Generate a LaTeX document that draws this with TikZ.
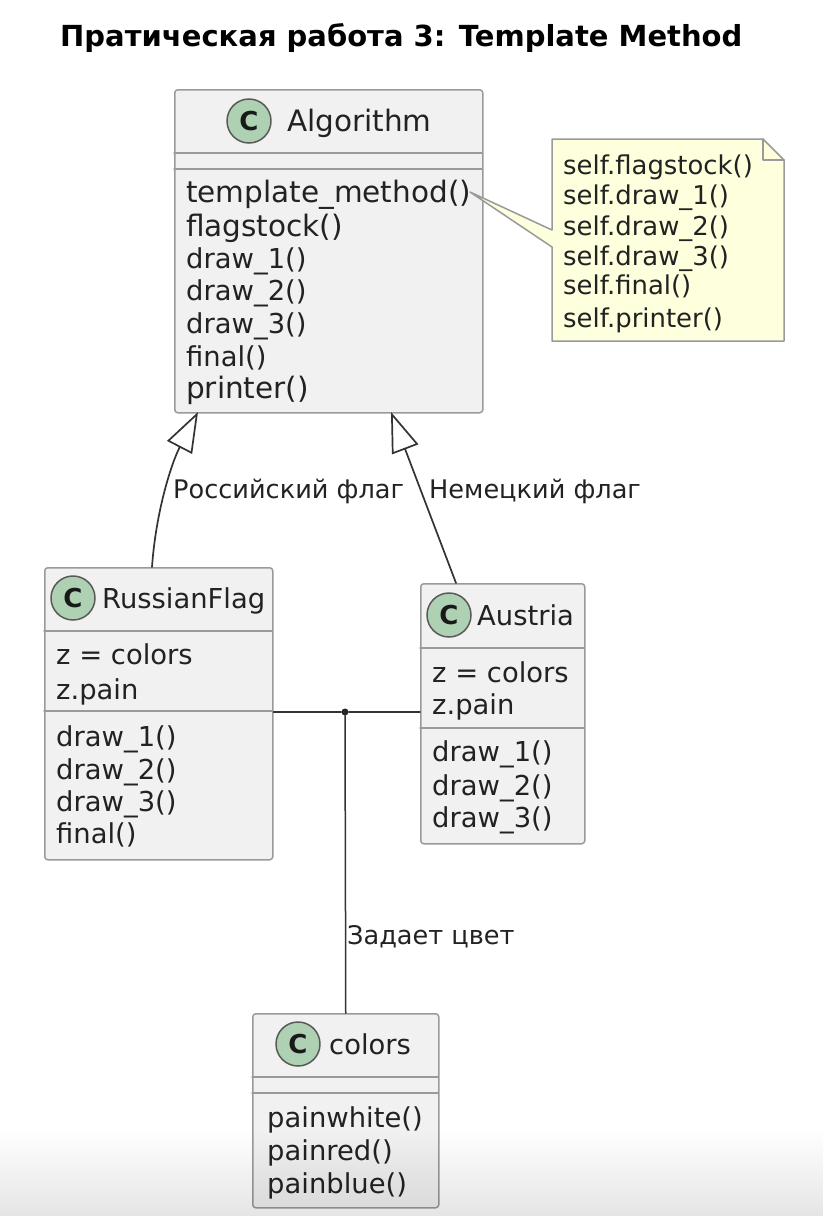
\documentclass[tikz,border=0pt]{standalone}
\usepackage{fontspec}
\setmainfont{DejaVu Sans}
\usetikzlibrary{arrows.meta, fadings}
\definecolor{boxfill}{HTML}{F1F1F1}
\definecolor{boxline}{HTML}{9A9A9A}
\definecolor{notefill}{HTML}{FEFFDD}
\definecolor{spotfill}{HTML}{ADD1B2}
\definecolor{inktext}{HTML}{222222}
\tikzstyle{every node}=[text=inktext, inner sep=0pt]
\tikzstyle{every path}=[line cap=round, line join=round]
\tikzset{
  classbox/.style={draw=boxline, fill=boxfill, line width=1.5pt, rounded corners=3pt, anchor=north west},
  classrule/.style={draw=boxline, line width=1.5pt},
  spot/.style={circle, draw=black!65, fill=spotfill, line width=1.5pt, minimum size=44pt, font=\fontsize{26}{26}\selectfont\bfseries, text=black!90},
  classname/.style={anchor=base west, yshift=-1pt, font=\fontsize{27.4}{27.4}\selectfont},
  member/.style={anchor=base west, yshift=-1pt, font=\fontsize{27.4}{27.4}\selectfont},
  bigmember/.style={anchor=base west, yshift=-1pt, font=\fontsize{29.5}{29.5}\selectfont},
  notetext/.style={anchor=base west, yshift=-1pt, font=\fontsize{25.9}{25.9}\selectfont},
  linklabel/.style={anchor=base west, yshift=-1pt, font=\fontsize{25.6}{25.6}\selectfont},
  link/.style={draw=black!80, line width=1.7pt},
  extends/.style={link, {Triangle[open, length=40pt, width=28pt, fill=white]}-},
}
\begin{document}
\begin{tikzpicture}[x=1pt, y=-1pt]
  \useasboundingbox (0,0) rectangle (824,1216);

  % Title
  \node[anchor=base west, font=\fontsize{29}{29}\selectfont\bfseries, text=black] (title) at (60,46) {Пратическая работа 3: Template Method};

  % Algorithm
  \node[classbox, minimum width=308pt, minimum height=323pt] (algorithm) at (174,89) {};
  \draw[classrule] (174,153) -- (482,153);
  \draw[classrule] (174,169) -- (482,169);
  \node[spot] (algorithmspot) at (249,121) {C};
  \node[bigmember] (algorithmname) at (287,130) {Algorithm};
  \node[bigmember] (m1) at (186,201) {template\_method()};
  \node[bigmember] (m2) at (186,235) {flagstock()};
  \node[member] (m3) at (186,267) {draw\_1()};
  \node[member] (m4) at (186,299) {draw\_2()};
  \node[member] (m5) at (186,332) {draw\_3()};
  \node[member] (m6) at (186,365) {final()};
  \node[bigmember] (m7) at (186,397) {printer()};

  % Note
  \draw[draw=boxline, fill=notefill, line width=1.5pt] (552,139) -- (763,139) -- (784,160) -- (784,341) -- (552,341) -- (552,247) -- (470,192) -- (552,230) -- cycle;
  \draw[draw=boxline, line width=1.5pt] (763,139) -- (763,160) -- (784,160);
  \node[notetext] (n1) at (563,173) {self.flagstock()};
  \node[notetext] (n2) at (563,203) {self.draw\_1()};
  \node[notetext] (n3) at (563,234) {self.draw\_2()};
  \node[notetext] (n4) at (563,264) {self.draw\_3()};
  \node[notetext] (n5) at (563,293) {self.final()};
  \node[notetext] (n6) at (563,326) {self.printer()};

  % RussianFlag
  \node[classbox, minimum width=228pt, minimum height=292pt] (russian) at (44,567) {};
  \draw[classrule] (44,631) -- (272,631);
  \draw[classrule] (44,711) -- (272,711);
  \node[spot] (russianspot) at (73,598) {C};
  \node[classname] (russianname) at (102,607) {RussianFlag};
  \node[member] (r1) at (56,663) {z = colors};
  \node[member] (r2) at (56,698) {z.pain};
  \node[member] (r3) at (56,745) {draw\_1()};
  \node[member] (r4) at (56,778) {draw\_2()};
  \node[member] (r5) at (56,810) {draw\_3()};
  \node[member] (r6) at (56,842) {final()};

  % Austria
  \node[classbox, minimum width=164pt, minimum height=260pt] (austria) at (420,583) {};
  \draw[classrule] (420,648) -- (584,648);
  \draw[classrule] (420,728) -- (584,728);
  \node[spot] (austriaspot) at (449,615) {C};
  \node[classname] (austrianame) at (477,624) {Austria};
  \node[member] (a1) at (432,681) {z = colors};
  \node[member] (a2) at (432,713) {z.pain};
  \node[member] (a3) at (432,760) {draw\_1()};
  \node[member] (a4) at (432,794) {draw\_2()};
  \node[member] (a5) at (432,826) {draw\_3()};

  % colors
  \node[classbox, minimum width=186pt, minimum height=194pt] (colors) at (252,1013) {};
  \draw[classrule] (252,1077) -- (438,1077);
  \draw[classrule] (252,1093) -- (438,1093);
  \node[spot] (colorsspot) at (298,1044) {C};
  \node[classname] (colorsname) at (329,1053) {colors};
  \node[member] (c1) at (267,1126) {painwhite()};
  \node[member] (c2) at (267,1159) {painred()};
  \node[member] (c3) at (267,1192) {painblue()};

  % Links
  \coordinate (russiantip) at (198,412);
  \coordinate (russiantail) at (152,567);
  \coordinate (austriatip) at (391,412);
  \coordinate (austriatail) at (456,583);
  \draw[extends] (russiantip) .. controls (172,462) and (156,510) .. (russiantail);
  \draw[extends] (austriatip) -- (austriatail);
  \node[circle, fill=black!85, minimum size=7pt] (join) at (345,712) {};
  \draw[link, line width=1.5pt] (russian.east |- join) -- (join) -- (austria.west |- join);
  \draw[link, line width=1.5pt] (join) -- (colors.north);

  % Link labels
  \node[linklabel] (russianlabel) at (173,497) {Российский флаг};
  \node[linklabel] (austrialabel) at (429,497) {Немецкий флаг};
  \node[linklabel] (colorslabel) at (347,943) {Задает цвет};

  % Fade at the bottom
  \fill[black, opacity=0.1, path fading=north] (0,1130) rectangle (824,1216);
\end{tikzpicture}
\end{document}
